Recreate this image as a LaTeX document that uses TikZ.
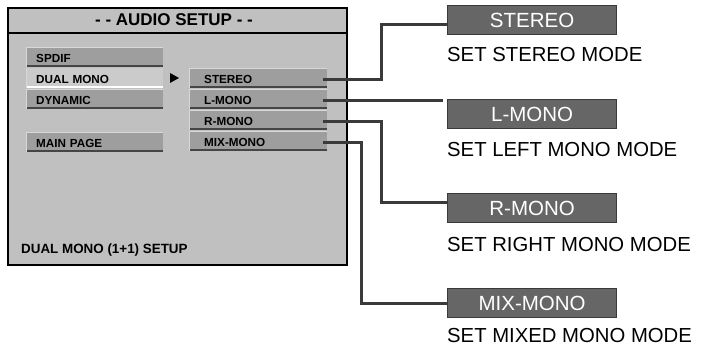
\documentclass[tikz,border=0pt]{standalone}
\usepackage{fontspec}
\setmainfont{Liberation Sans}
\definecolor{panelgray}{HTML}{C0C0C0}
\definecolor{btngray}{HTML}{9E9E9E}
\definecolor{btndark}{HTML}{454545}
\definecolor{btnlight}{HTML}{D8D8D8}
\definecolor{hlgray}{HTML}{CBCBCB}
\definecolor{boxgray}{HTML}{666666}
\definecolor{boxedge}{HTML}{3A3A3A}
\definecolor{conngray}{HTML}{3A3A3A}
\begin{document}
\begin{tikzpicture}[x=1pt,y=-1pt,
  panel/.style={anchor=north west, draw=black, line width=2pt, fill=panelgray, minimum width=339pt, minimum height=257pt, inner sep=0pt},
  btnbase/.style={anchor=north west, minimum height=20pt, inner xsep=10pt, inner ysep=0pt, align=left, text height=11pt, text depth=0.6pt, font=\bfseries\fontsize{11.7}{12}\selectfont},
  btn/.style={btnbase, fill=btngray, path picture={
      \fill[btndark] (path picture bounding box.south west) rectangle ([yshift=2.5pt]path picture bounding box.south east);
      \fill[btnlight] (path picture bounding box.north west) rectangle ([yshift=-1.2pt]path picture bounding box.north east);
      \fill[btnlight] (path picture bounding box.north west) rectangle ([xshift=1.2pt]path picture bounding box.south west);}},
  btnhl/.style={btnbase, fill=hlgray, path picture={
      \fill[white] (path picture bounding box.south west) rectangle ([yshift=2.5pt]path picture bounding box.south east);
      \fill[btnlight] (path picture bounding box.north west) rectangle ([xshift=1.2pt]path picture bounding box.south west);}},
  lbtn/.style={text width=117pt},
  rbtn/.style={inner xsep=15pt, text width=108pt},
  rbox/.style={anchor=north west, minimum width=169pt, minimum height=29pt, inner sep=0pt, fill=boxgray, draw=boxedge, line width=1.2pt, text=white, font=\fontsize{20.5}{21}\selectfont},
  desc/.style={anchor=base west, inner sep=0pt, font=\fontsize{20.3}{21}\selectfont},
  conn/.style={draw=conngray, line width=3pt}
]
\useasboundingbox (0,0) rectangle (705,347);
% panel
\node[panel] (panel) at (7,7) {};
\draw[line width=2pt] (7,33) -- (346,33);
\node[font=\bfseries\fontsize{17}{18}\selectfont] (title) at (174,20) {- - AUDIO SETUP - -};
\node[anchor=base west, inner sep=0pt, font=\bfseries\fontsize{13.4}{14}\selectfont] (footer) at (21,254) {DUAL MONO (1+1) SETUP};
% left buttons
\node[btn, lbtn] (spdif) at (26,47) {SPDIF};
\node[btnhl, lbtn] (dual) at (26,68) {DUAL MONO};
\node[btn, lbtn] (dyn) at (26,89) {DYNAMIC};
\node[btn, lbtn] (main) at (26,132) {MAIN PAGE};
% arrow
\fill (170,73) -- (170,83) -- (179,78) -- cycle;
% right buttons
\node[btn, rbtn] (bst) at (189,68) {STEREO};
\node[btn, rbtn] (blm) at (189,89) {L-MONO};
\node[btn, rbtn] (brm) at (189,110) {R-MONO};
\node[btn, rbtn] (bmx) at (189,131) {MIX-MONO};
% right boxes
\node[rbox] (rst) at (447,5) {STEREO};
\node[rbox] (rlm) at (447,99) {L-MONO};
\node[rbox] (rrm) at (447,193) {R-MONO};
\node[rbox] (rmx) at (447,288) {MIX-MONO};
% descriptions
\node[desc] (dst) at (447,62) {SET STEREO MODE};
\node[desc] (dlm) at (447,156.5) {SET LEFT MONO MODE};
\node[desc] (drm) at (447,252) {SET RIGHT MONO MODE};
\node[desc] (dmx) at (447,343) {SET MIXED MONO MODE};
% connectors
\draw[conn] ([xshift=-4pt,yshift=-1pt]bst.east) -- ++(58,0) |- ([yshift=-4pt]rst.west);
\draw[conn] ([xshift=-4pt,yshift=-1pt]blm.east) -- ([xshift=-4pt,yshift=-1pt]blm.east -| rlm.west);
\draw[conn] ([xshift=-4pt,yshift=-1pt]brm.east) -- ++(58,0) |- ([yshift=5.5pt]rrm.west);
\draw[conn] ([xshift=-4pt,yshift=-1pt]bmx.east) -- ++(38,0) |- (rmx.west);
\end{tikzpicture}
\end{document}
